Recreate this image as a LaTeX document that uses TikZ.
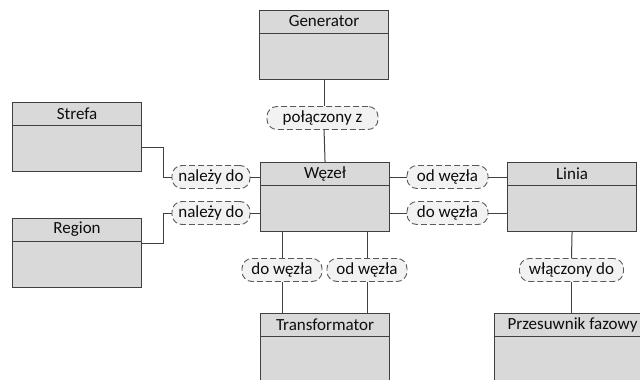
\documentclass[tikz,border=0pt]{standalone}
\usepackage{fontspec}
\setmainfont{Carlito}
\definecolor{boxfill}{HTML}{D9D9D9}
\definecolor{boxline}{HTML}{404040}
\definecolor{labfill}{HTML}{F2F2F2}
\definecolor{labline}{HTML}{595959}
\definecolor{txt}{HTML}{0D0D0D}
\begin{document}
\begin{tikzpicture}[x=1pt,y=-1pt,
  box/.style={draw=boxline, fill=boxfill, line width=1.1pt, minimum width=129pt, minimum height=69pt, inner sep=0pt, anchor=north west},
  title/.style={font=\fontsize{17}{20}\selectfont, text=txt, anchor=center, inner sep=0pt},
  lab/.style={draw=labline, dash pattern=on 6pt off 3pt, line width=0.9pt, fill=labfill, rounded corners=10pt, minimum height=23pt, inner xsep=6pt, inner ysep=0pt, font=\fontsize{17}{20}\selectfont, text=txt, text height=12pt, text depth=3.5pt},
  conn/.style={draw=boxline, line width=1pt}]
\clip (0,0) rectangle (640,380);
\fill[white] (0,0) rectangle (640,380);
% boxes
\node[box] (gen) at (259,10) {};
\node[box] (str) at (12,102) {};
\node[box] (reg) at (12,218) {};
\node[box] (wez) at (260,162) {};
\node[box] (lin) at (507,162) {};
\node[box] (tra) at (260,313) {};
\node[box, minimum width=156pt] (prz) at (494,313) {};
\foreach \b in {gen,str,reg,wez,lin,tra,prz}{
  \draw[boxline, line width=0.9pt] ([yshift=-23pt]\b.north west) -- ([yshift=-23pt]\b.north east);
}
\node[title] (gent) at ([yshift=-11.5pt]gen.north) {Generator};
\node[title] (strt) at ([yshift=-11.5pt]str.north) {Strefa};
\node[title] (regt) at ([yshift=-11.5pt]reg.north) {Region};
\node[title] (wezt) at ([yshift=-11.5pt]wez.north) {Węzeł};
\node[title] (lint) at ([yshift=-11.5pt]lin.north) {Linia};
\node[title] (trat) at ([yshift=-11.5pt]tra.north) {Transformator};
\node[title] (przt) at ([yshift=-11.5pt]prz.north) {Przesuwnik fazowy};
% labels
\node[lab, minimum width=111pt] (pol) at (322.5,118) {połączony z};
\node[lab, minimum width=78pt] (nal1) at (211,177) {należy do};
\node[lab, minimum width=78pt] (nal2) at (211,213) {należy do};
\node[lab, minimum width=81pt] (od1) at (447.5,177) {od węzła};
\node[lab, minimum width=81pt] (do1) at (447.5,213) {do węzła};
\node[lab, minimum width=80pt] (do2) at (282,270) {do węzła};
\node[lab, minimum width=80pt] (od2) at (367,270) {od węzła};
\node[lab, minimum width=104pt] (wla) at (571.5,270) {włączony do};
% connectors
\draw[conn] (gen.south) -- (gen.south |- pol.north);
\draw[conn] (gen.south |- pol.south) -- (wez.north);
\draw[conn] ([yshift=-10.5pt]str.east) -- ++(21,0) |- (nal1.west);
\draw[conn] ([yshift=9.5pt]reg.east) -- ++(21,0) |- (nal2.west);
\draw[conn] (nal1.east) -- (nal1.east -| wez.west);
\draw[conn] (nal2.east) -- (nal2.east -| wez.west);
\draw[conn] (od1.west -| wez.east) -- (od1.west);
\draw[conn] (od1.east) -- (od1.east -| lin.west);
\draw[conn] (do1.west -| wez.east) -- (do1.west);
\draw[conn] (do1.east) -- (do1.east -| lin.west);
\draw[conn] (do2.north |- wez.south) -- (do2.north);
\draw[conn] (do2.south) -- (do2.south |- tra.north);
\draw[conn] (od2.north |- wez.south) -- (od2.north);
\draw[conn] (od2.south) -- (od2.south |- tra.north);
\draw[conn] (lin.south) -- (wla.north);
\draw[conn] (wla.south) -- (wla.south |- prz.north);
\end{tikzpicture}
\end{document}
